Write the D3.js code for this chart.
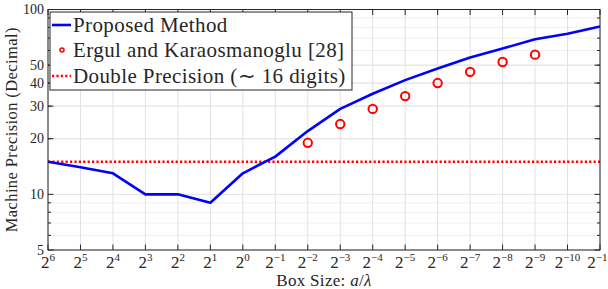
<!DOCTYPE html>
<html>
<head>
<meta charset="utf-8">
<script src="https://cdn.jsdelivr.net/npm/d3@7"></script>
<style>
  body { margin: 0; background: #fff; }
  text { font-family: "Liberation Serif", "Times New Roman", serif; fill: #262626; }
</style>
</head>
<body>
<svg id="chart" width="608" height="289"></svg>
<script>
// box size exponents a/lambda = 2^n
var exps = [6, 5, 4, 3, 2, 1, 0, -1, -2, -3, -4, -5, -6, -7, -8, -9, -10, -11];
var proposed = [15, 14, 13, 10, 10, 9, 13, 16, 22, 29, 35, 41.5, 48, 55, 61.5, 69, 74, 81];
var ergulExps = [-2, -3, -4, -5, -6, -7, -8, -9];
var ergul = [19, 24, 29, 34, 40, 46, 52, 57];
var doublePrecision = 15;
var yTicks = [5, 10, 20, 30, 40, 50, 100];
var yMinor = [6, 7, 8, 9, 20, 30, 40, 50, 60, 70, 80, 90];

var svg = d3.select('#chart');
var m = { left: 48, right: 600, top: 9.5, bottom: 250 };

var x = d3.scaleLog().base(2).domain([Math.pow(2, 6), Math.pow(2, -11)]).range([m.left, m.right]);
var y = d3.scaleLog().domain([5, 100]).range([m.bottom, m.top]);

// grid
var grid = svg.append('g');
grid.selectAll('.ymin').data(yMinor).enter().append('line')
  .attr('x1', m.left).attr('x2', m.right)
  .attr('y1', function (d) { return y(d); }).attr('y2', function (d) { return y(d); })
  .attr('stroke', '#efefef').attr('stroke-width', 1);
grid.selectAll('.ymaj').data(yTicks).enter().append('line')
  .attr('x1', m.left).attr('x2', m.right)
  .attr('y1', function (d) { return y(d); }).attr('y2', function (d) { return y(d); })
  .attr('stroke', '#e2e2e2').attr('stroke-width', 1);
grid.selectAll('.xg').data(exps).enter().append('line')
  .attr('x1', function (d) { return x(Math.pow(2, d)); }).attr('x2', function (d) { return x(Math.pow(2, d)); })
  .attr('y1', m.top).attr('y2', m.bottom)
  .attr('stroke', '#e2e2e2').attr('stroke-width', 1);

// double precision reference
svg.append('line')
  .attr('x1', m.left).attr('x2', m.right)
  .attr('y1', y(doublePrecision)).attr('y2', y(doublePrecision))
  .attr('stroke', '#ff0000').attr('stroke-width', 2.5)
  .attr('stroke-dasharray', '2.2,2.2');

// proposed method
var line = d3.line()
  .x(function (d, i) { return x(Math.pow(2, exps[i])); })
  .y(function (d) { return y(d); });
svg.append('path').datum(proposed)
  .attr('d', line)
  .attr('fill', 'none').attr('stroke', '#0000ff').attr('stroke-width', 2.6)
  .attr('stroke-linejoin', 'round');

// Ergul and Karaosmanoglu
svg.selectAll('.erg').data(ergul).enter().append('circle')
  .attr('cx', function (d, i) { return x(Math.pow(2, ergulExps[i])); })
  .attr('cy', function (d) { return y(d); })
  .attr('r', 4.2)
  .attr('fill', 'none').attr('stroke', '#ff0000').attr('stroke-width', 2);

// axes box + ticks
var ax = svg.append('g').attr('stroke', '#262626').attr('stroke-width', 1);
ax.append('rect').attr('x', m.left).attr('y', m.top).attr('width', m.right - m.left).attr('height', m.bottom - m.top)
  .attr('fill', 'none');
exps.forEach(function (e) {
  var px = x(Math.pow(2, e));
  ax.append('line').attr('x1', px).attr('x2', px).attr('y1', m.bottom).attr('y2', m.bottom - 5.5);
  ax.append('line').attr('x1', px).attr('x2', px).attr('y1', m.top).attr('y2', m.top + 5.5);
});
yTicks.forEach(function (v) {
  ax.append('line').attr('x1', m.left).attr('x2', m.left + 5.5).attr('y1', y(v)).attr('y2', y(v));
  ax.append('line').attr('x1', m.right).attr('x2', m.right - 5.5).attr('y1', y(v)).attr('y2', y(v));
});
yMinor.forEach(function (v) {
  ax.append('line').attr('x1', m.left).attr('x2', m.left + 3).attr('y1', y(v)).attr('y2', y(v));
  ax.append('line').attr('x1', m.right).attr('x2', m.right - 3).attr('y1', y(v)).attr('y2', y(v));
});

// tick labels
svg.selectAll('.yl').data(yTicks).enter().append('text')
  .attr('x', m.left - 4).attr('y', function (d) { return y(d) + 4.5; })
  .attr('text-anchor', 'end').attr('font-size', 14)
  .text(function (d) { return d; });

var xl = svg.selectAll('.xl').data(exps).enter().append('text')
  .attr('x', function (d) { return x(Math.pow(2, d)); })
  .attr('y', 268)
  .attr('text-anchor', 'middle').attr('font-size', 17);
xl.append('tspan').text('2');
xl.append('tspan').attr('dy', -7).attr('font-size', 11)
  .text(function (d) { return d < 0 ? '\u2212' + (-d) : d; });

// axis titles
svg.append('text')
  .attr('transform', 'translate(17,' + ((m.top + m.bottom) / 2) + ') rotate(-90)')
  .attr('text-anchor', 'middle').attr('font-size', 16.5).attr('letter-spacing', 0.4)
  .text('Machine Precision (Decimal)');
var xt = svg.append('text')
  .attr('x', (m.left + m.right) / 2).attr('y', 286)
  .attr('text-anchor', 'middle').attr('font-size', 17).attr('letter-spacing', 0.3);
xt.append('tspan').text('Box Size: ');
xt.append('tspan').attr('font-style', 'italic').text('a');
xt.append('tspan').text('/');
xt.append('tspan').attr('font-style', 'italic').text('\u03bb');

// legend
var lg = svg.append('g');
lg.append('rect').attr('x', 50).attr('y', 12).attr('width', 302).attr('height', 78)
  .attr('fill', '#fff').attr('stroke', '#262626').attr('stroke-width', 1);
var rows = [
  { label: 'Proposed Method', y: 25 },
  { label: 'Ergul and Karaosmanoglu [28]', y: 50 },
  { label: 'Double Precision (\u223c 16 digits)', y: 76 }
];
lg.append('line').attr('x1', 52).attr('x2', 71).attr('y1', rows[0].y).attr('y2', rows[0].y)
  .attr('stroke', '#0000ff').attr('stroke-width', 2.6);
lg.append('circle').attr('cx', 62).attr('cy', rows[1].y).attr('r', 2)
  .attr('fill', 'none').attr('stroke', '#ff0000').attr('stroke-width', 1.5);
lg.append('line').attr('x1', 52).attr('x2', 71).attr('y1', rows[2].y).attr('y2', rows[2].y)
  .attr('stroke', '#ff0000').attr('stroke-width', 2.5).attr('stroke-dasharray', '2.2,2.2');
lg.selectAll('.lt').data(rows).enter().append('text')
  .attr('x', 73).attr('y', function (d) { return d.y + 6.5; })
  .attr('font-size', 21).attr('letter-spacing', 0.4)
  .text(function (d) { return d.label; });
</script>
</body>
</html>
